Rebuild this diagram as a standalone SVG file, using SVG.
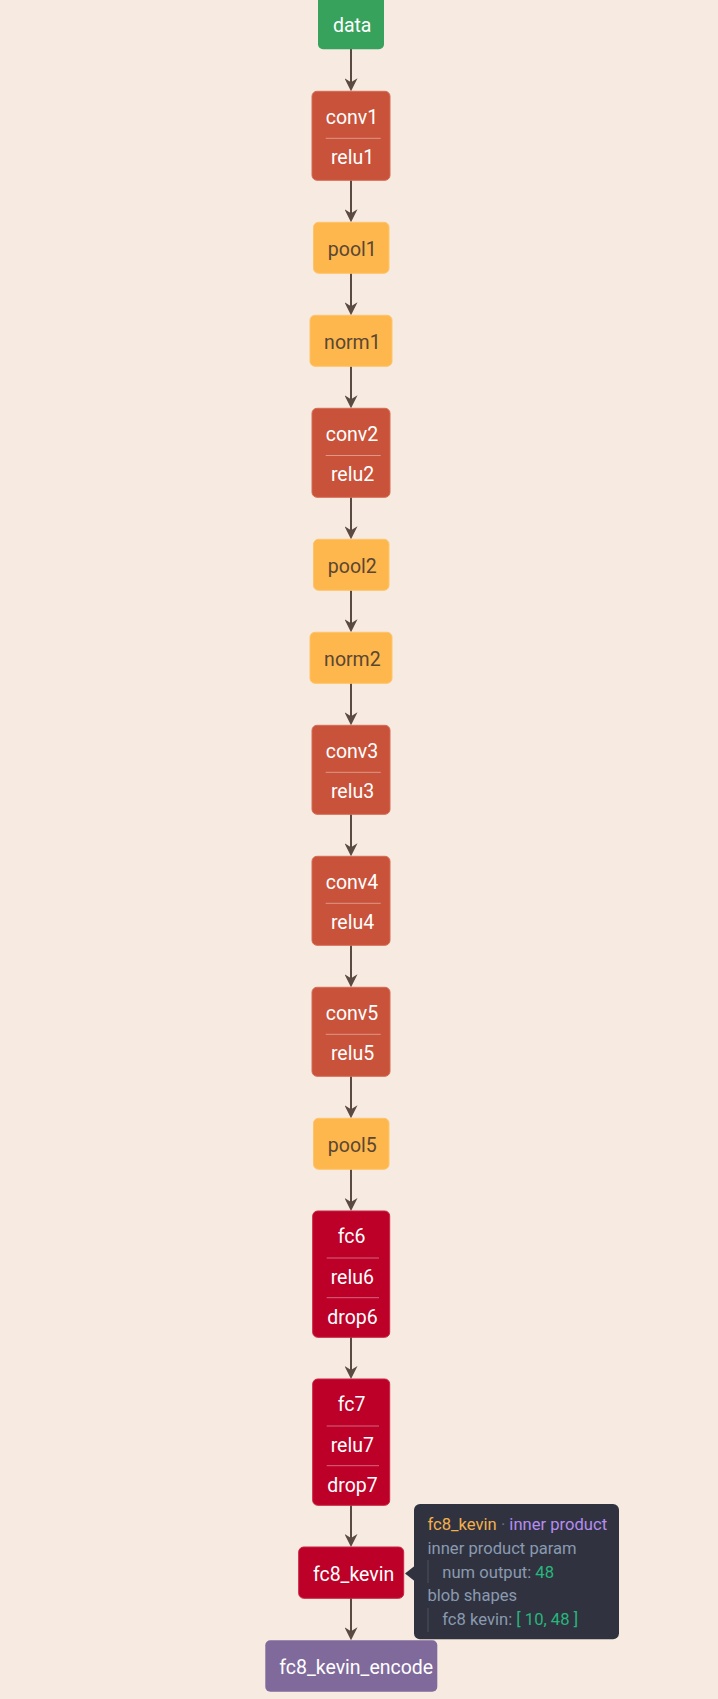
<svg xmlns="http://www.w3.org/2000/svg" width="718" height="1699" viewBox="0 0 718 1699">
  <style>
    .lbl { font-family: Roboto, "Liberation Sans", sans-serif; font-size: 19.5px; text-anchor: middle; fill: #ffffff; }
    .lbl.dark { fill: #5a4632; }
    .data { fill: #36a25b; }
    .conv { fill: #c9523a; stroke: #d66b54; stroke-width: 1; }
    .pool { fill: #feb74d; stroke: #ffc468; stroke-width: 1; }
    .fc { fill: #bc0028; stroke: #c9243f; stroke-width: 1; }
    .enc { fill: #7f6a9b; }
    .sep { stroke: #ffffff; stroke-opacity: 0.4; stroke-width: 1; }
    .edge { stroke: #5a4a42; stroke-width: 2; fill: none; marker-end: url(#arrow); }
    .tip { font-family: Roboto, "Liberation Sans", sans-serif; font-size: 16.6px; fill: #8a9ab1; }
    .tip .name { fill: #f3b04c; }
    .tip .dot { fill: #6c7180; }
    .tip .type { fill: #b58cf2; }
    .tip .val { fill: #27b67c; }
    .bar { stroke: #4d5160; stroke-width: 1; }
  </style>
  <defs>
    <marker id="arrow" viewBox="0 0 13 13" refX="10" refY="6.5" markerWidth="13" markerHeight="13" markerUnits="userSpaceOnUse" orient="auto">
      <path d="M0,0 L13,6.5 L0,13 L4,6.5 Z" fill="#5a4a42"/>
    </marker>
  </defs>

  <rect x="0" y="0" width="718" height="1699" fill="#f6eae1"/>

  <g id="edges">
    <line class="edge" x1="351" y1="49" x2="351" y2="88.3"/>
    <line class="edge" x1="351" y1="180" x2="351" y2="219.3"/>
    <line class="edge" x1="351" y1="273" x2="351" y2="312.3"/>
    <line class="edge" x1="351" y1="366" x2="351" y2="405.3"/>
    <line class="edge" x1="351" y1="497" x2="351" y2="536.3"/>
    <line class="edge" x1="351" y1="590" x2="351" y2="629.3"/>
    <line class="edge" x1="351" y1="683" x2="351" y2="722.3"/>
    <line class="edge" x1="351" y1="814" x2="351" y2="853.3"/>
    <line class="edge" x1="351" y1="945" x2="351" y2="984.3"/>
    <line class="edge" x1="351" y1="1076" x2="351" y2="1115.3"/>
    <line class="edge" x1="351" y1="1169" x2="351" y2="1208"/>
    <line class="edge" x1="351" y1="1337" x2="351" y2="1376"/>
    <line class="edge" x1="351" y1="1505" x2="351" y2="1544"/>
    <line class="edge" x1="351" y1="1598" x2="351" y2="1637.3"/>
  </g>

  <g id="data">
    <rect class="data" x="318" y="-6" width="66" height="55.3" rx="5"/>
    <text class="lbl" x="352.2" y="32.3">data</text>
  </g>

  <g id="conv1">
    <rect class="conv" x="312" y="91.3" width="78" height="89" rx="5"/>
    <text class="lbl" x="352" y="124.3">conv1</text>
    <line class="sep" x1="325.7" y1="138.3" x2="380.7" y2="138.3"/>
    <text class="lbl" x="352.5" y="164.3">relu1</text>
  </g>

  <g id="pool1">
    <rect class="pool" x="313.5" y="222.3" width="75.5" height="51" rx="5"/>
    <text class="lbl dark" x="352.3" y="256.3">pool1</text>
  </g>

  <g id="norm1">
    <rect class="pool" x="310" y="315.3" width="82" height="51" rx="5"/>
    <text class="lbl dark" x="352.4" y="349.3">norm1</text>
  </g>

  <g id="conv2">
    <rect class="conv" x="312" y="408.3" width="78" height="89" rx="5"/>
    <text class="lbl" x="352" y="441.3">conv2</text>
    <line class="sep" x1="325.7" y1="455.5" x2="380.7" y2="455.5"/>
    <text class="lbl" x="352.5" y="481.3">relu2</text>
  </g>

  <g id="pool2">
    <rect class="pool" x="313.5" y="539.3" width="75.5" height="51" rx="5"/>
    <text class="lbl dark" x="352.3" y="573.3">pool2</text>
  </g>

  <g id="norm2">
    <rect class="pool" x="310" y="632.3" width="82" height="51" rx="5"/>
    <text class="lbl dark" x="352.4" y="666.3">norm2</text>
  </g>

  <g id="conv3">
    <rect class="conv" x="312" y="725.3" width="78" height="89" rx="5"/>
    <text class="lbl" x="352" y="758.3">conv3</text>
    <line class="sep" x1="325.7" y1="772.3" x2="380.7" y2="772.3"/>
    <text class="lbl" x="352.5" y="798.3">relu3</text>
  </g>

  <g id="conv4">
    <rect class="conv" x="312" y="856.3" width="78" height="89" rx="5"/>
    <text class="lbl" x="352" y="889.3">conv4</text>
    <line class="sep" x1="325.7" y1="903.3" x2="380.7" y2="903.3"/>
    <text class="lbl" x="352.5" y="929.3">relu4</text>
  </g>

  <g id="conv5">
    <rect class="conv" x="312" y="987.3" width="78" height="89" rx="5"/>
    <text class="lbl" x="352" y="1020.3">conv5</text>
    <line class="sep" x1="325.7" y1="1034.3" x2="380.7" y2="1034.3"/>
    <text class="lbl" x="352.5" y="1060.3">relu5</text>
  </g>

  <g id="pool5">
    <rect class="pool" x="313.5" y="1118.3" width="75.5" height="51" rx="5"/>
    <text class="lbl dark" x="352.3" y="1152.3">pool5</text>
  </g>

  <g id="fc6">
    <rect class="fc" x="312.7" y="1211" width="77" height="126.3" rx="5"/>
    <text class="lbl" x="351.5" y="1243.3">fc6</text>
    <line class="sep" x1="326.7" y1="1258" x2="379" y2="1258"/>
    <text class="lbl" x="352.3" y="1284">relu6</text>
    <line class="sep" x1="326.7" y1="1297.7" x2="379" y2="1297.7"/>
    <text class="lbl" x="352.5" y="1324">drop6</text>
  </g>

  <g id="fc7">
    <rect class="fc" x="312.7" y="1379" width="77" height="126.3" rx="5"/>
    <text class="lbl" x="351.5" y="1411.3">fc7</text>
    <line class="sep" x1="326.7" y1="1426" x2="379" y2="1426"/>
    <text class="lbl" x="352.3" y="1452">relu7</text>
    <line class="sep" x1="326.7" y1="1465.7" x2="379" y2="1465.7"/>
    <text class="lbl" x="352.5" y="1492">drop7</text>
  </g>

  <g id="fc8_kevin">
    <rect class="fc" x="298.7" y="1547" width="105" height="51.3" rx="5"/>
    <text class="lbl" x="353.6" y="1580.7">fc8_kevin</text>
  </g>

  <g id="fc8_kevin_encode">
    <rect class="enc" x="265.3" y="1640.3" width="172" height="51.4" rx="5"/>
    <text class="lbl" x="356.2" y="1674">fc8_kevin_encode</text>
  </g>

  <!-- details panel for fc8_kevin -->
  <g id="fc8_kevin_tooltip">
    <polygon points="414.5,1566 405,1573.5 414.5,1581" fill="#30333f"/>
    <rect x="414" y="1504" width="205" height="135.3" rx="6" fill="#30333f"/>
    <text class="tip" x="427.5" y="1530"><tspan class="name">fc8_kevin</tspan><tspan class="dot"> · </tspan><tspan class="type">inner product</tspan></text>
    <text class="tip" x="427.5" y="1554">inner product param</text>
    <line class="bar" x1="428" y1="1560" x2="428" y2="1583"/>
    <text class="tip" x="442.3" y="1577.5">num output: <tspan class="val">48</tspan></text>
    <text class="tip" x="427.5" y="1601">blob shapes</text>
    <line class="bar" x1="428" y1="1608" x2="428" y2="1632"/>
    <text class="tip" x="442.3" y="1625.3">fc8 kevin: <tspan class="val">[ 10, 48 ]</tspan></text>
  </g>
</svg>
